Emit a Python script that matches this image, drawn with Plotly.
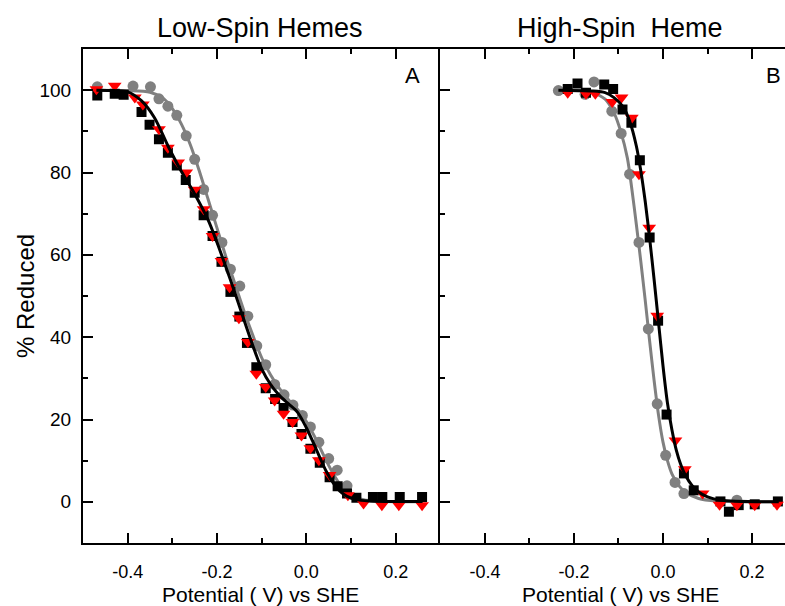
import plotly.graph_objects as go

# ---------------- Data ----------------
# Panel A (Low-Spin Hemes)
a_gray_x = [-0.468, -0.388, -0.349, -0.330, -0.310, -0.290, -0.269, -0.250, -0.230, -0.210,
            -0.189, -0.170, -0.149, -0.131, -0.111, -0.091, -0.071, -0.050, -0.030, -0.009,
            0.009, 0.028, 0.050, 0.069, 0.091]
a_gray_y = [100.8, 101.0, 100.8, 97.9, 96.1, 93.9, 88.9, 83.2, 75.9, 69.6,
            63.0, 56.5, 52.4, 45.1, 37.9, 33.3, 28.5, 26.0, 23.5, 21.0,
            18.2, 14.5, 10.5, 7.7, 3.9]

a_black_x = [-0.468, -0.429, -0.409, -0.369, -0.351, -0.330, -0.310, -0.290, -0.270, -0.250,
             -0.230, -0.210, -0.190, -0.170, -0.150, -0.133, -0.112, -0.091, -0.070, -0.051,
             -0.031, -0.011, 0.009, 0.030, 0.052, 0.070, 0.091, 0.112, 0.149, 0.170, 0.209, 0.259]
a_black_y = [98.7, 99.1, 98.9, 94.7, 91.6, 88.1, 84.8, 81.7, 78.2, 75.1,
             69.6, 64.6, 58.3, 51.0, 45.0, 38.6, 32.7, 27.6, 25.0, 22.8,
             19.4, 16.5, 12.9, 9.5, 6.0, 3.8, 2.0, 1.0, 1.2, 1.2, 1.2, 1.2]

a_red_x = [-0.470, -0.429, -0.384, -0.366, -0.330, -0.310, -0.287, -0.269, -0.250, -0.230,
           -0.210, -0.190, -0.172, -0.151, -0.131, -0.112, -0.091, -0.071, -0.051, -0.031,
           -0.011, 0.009, 0.028, 0.052, 0.093, 0.128, 0.169, 0.207, 0.259]
a_red_y = [100.2, 101.1, 98.2, 96.5, 90.5, 86.0, 82.4, 80.0, 75.8, 71.1,
           64.6, 58.5, 52.1, 44.6, 38.8, 31.1, 27.9, 24.6, 21.4, 19.4,
           16.1, 13.0, 10.1, 6.5, 1.6, -0.4, -0.8, -0.8, -0.8]

a_fit_black_x = [-0.47, -0.43, -0.40, -0.37, -0.34, -0.31, -0.28, -0.25, -0.22, -0.20, -0.18,
                 -0.16, -0.14, -0.12, -0.10, -0.08, -0.06, -0.04, -0.02, 0.0, 0.015, 0.03,
                 0.045, 0.06, 0.075, 0.09, 0.11, 0.14, 0.26]
a_fit_black_y = [100.0, 99.9, 99.6, 97.5, 93.3, 86.5, 80.3, 74.8, 68.5, 63.0, 57.0,
                 50.8, 44.3, 38.0, 32.3, 28.5, 25.8, 23.8, 21.8, 18.0, 14.5, 10.8,
                 7.3, 4.6, 2.6, 1.4, 0.6, 0.2, 0.1]

a_fit_gray_x = [-0.47, -0.40, -0.35, -0.32, -0.30, -0.28, -0.26, -0.24, -0.22, -0.20, -0.18,
                -0.16, -0.14, -0.12, -0.10, -0.08, -0.06, -0.04, -0.02, 0.0, 0.02, 0.04,
                0.06, 0.08, 0.10, 0.12, 0.15, 0.26]
a_fit_gray_y = [100.0, 99.9, 99.5, 98.0, 95.5, 91.8, 86.8, 80.5, 73.5, 66.5, 59.5,
                53.0, 46.5, 40.5, 35.0, 30.8, 27.5, 24.8, 22.5, 19.5, 15.5, 11.0,
                6.8, 3.5, 1.6, 0.7, 0.2, 0.0]

# Panel B (High-Spin Heme)
b_gray_x = [-0.235, -0.175, -0.155, -0.115, -0.094, -0.075, -0.054, -0.033, -0.013, 0.006,
            0.027, 0.047, 0.166]
b_gray_y = [99.9, 99.0, 102.0, 94.9, 89.5, 79.6, 63.0, 42.0, 23.8, 11.3,
            4.7, 2.0, 0.4]

b_black_x = [-0.214, -0.192, -0.173, -0.132, -0.112, -0.091, -0.071, -0.052, -0.030, -0.011,
             0.008, 0.047, 0.069, 0.129, 0.148, 0.170, 0.206, 0.258]
b_black_y = [100.3, 101.6, 99.4, 101.4, 100.3, 95.3, 92.1, 83.0, 64.2, 44.0,
             21.2, 6.9, 2.8, 0.1, -2.4, -0.8, -0.6, 0.1]

b_red_x = [-0.214, -0.173, -0.152, -0.114, -0.093, -0.070, -0.054, -0.031, -0.013, 0.028,
           0.049, 0.089, 0.127, 0.166, 0.206, 0.256]
b_red_y = [99.4, 99.1, 99.1, 97.1, 98.2, 93.3, 79.6, 66.6, 45.2, 14.9,
           7.9, 2.0, -0.7, -0.8, -0.8, -0.7]

b_fit_black_x = [-0.235, -0.16, -0.13, -0.11, -0.09, -0.075, -0.06, -0.05, -0.04, -0.03, -0.02,
                 -0.01, 0.0, 0.01, 0.02, 0.03, 0.04, 0.05, 0.065, 0.08, 0.10, 0.13, 0.26]
b_fit_black_y = [100.0, 99.8, 99.4, 98.2, 96.0, 92.5, 86.5, 80.5, 73.0, 64.0, 54.0,
                 43.5, 33.0, 24.0, 17.5, 12.5, 9.0, 6.5, 4.0, 2.4, 1.2, 0.4, 0.0]

b_fit_gray_x = [-0.235, -0.18, -0.155, -0.13, -0.11, -0.095, -0.08, -0.07, -0.06, -0.05, -0.04,
                -0.03, -0.02, -0.01, 0.0, 0.01, 0.02, 0.035, 0.05, 0.08, 0.12, 0.26]
b_fit_gray_y = [100.0, 99.8, 99.3, 97.8, 94.5, 90.0, 83.5, 76.0, 67.5, 58.5, 49.0,
                39.0, 29.5, 21.0, 14.5, 10.0, 6.8, 4.0, 2.4, 0.8, 0.2, 0.0]

x_tick_vals = [-0.4, -0.2, 0.0, 0.2]
x_tick_text = ["-0.4", "-0.2", "0.0", "0.2"]
y_tick_vals = [0, 20, 40, 60, 80, 100]
y_tick_text = ["0", "20", "40", "60", "80", "100"]

titles = ["Low-Spin Hemes", "High-Spin  Heme"]
panel_labels = ["A", "B"]
x_title = "Potential ( V) vs SHE"
y_title = "% Reduced"

# ---------------- Figure ----------------
FONT = "Liberation Sans, Arial, sans-serif"
GRAY = "#808080"
RED = "#FF0000"

fig = go.Figure()


def add_panel(xa, ya, gx, gy, bx, by, rx, ry, fbx, fby, fgx, fgy):
    fig.add_trace(go.Scatter(x=gx, y=gy, mode="markers", xaxis=xa, yaxis=ya,
                             marker=dict(symbol="circle", size=11, color=GRAY, line=dict(width=0))))
    fig.add_trace(go.Scatter(x=fgx, y=fgy, mode="lines", xaxis=xa, yaxis=ya,
                             line=dict(color=GRAY, width=3, shape="spline", smoothing=0.8)))
    fig.add_trace(go.Scatter(x=bx, y=by, mode="markers", xaxis=xa, yaxis=ya,
                             marker=dict(symbol="square", size=10, color="black", line=dict(width=0))))
    fig.add_trace(go.Scatter(x=rx, y=ry, mode="markers", xaxis=xa, yaxis=ya,
                             marker=dict(symbol="triangle-down", size=12, color=RED, line=dict(width=0))))
    fig.add_trace(go.Scatter(x=fbx, y=fby, mode="lines", xaxis=xa, yaxis=ya,
                             line=dict(color="black", width=3, shape="spline", smoothing=0.8)))


add_panel("x", "y", a_gray_x, a_gray_y, a_black_x, a_black_y, a_red_x, a_red_y,
          a_fit_black_x, a_fit_black_y, a_fit_gray_x, a_fit_gray_y)
add_panel("x2", "y2", b_gray_x, b_gray_y, b_black_x, b_black_y, b_red_x, b_red_y,
          b_fit_black_x, b_fit_black_y, b_fit_gray_x, b_fit_gray_y)

TOP = 49
BOTTOM = 543
H = BOTTOM - TOP
dA = 0.5091
tickfont = dict(family=FONT, size=18, color="black")
minor_x = dict(tickmode="linear", tick0=0, dtick=0.1, ticks="inside", ticklen=5,
               tickwidth=2, tickcolor="black", showgrid=False)
minor_y = dict(tickmode="linear", tick0=0, dtick=10, ticks="inside", ticklen=5,
               tickwidth=2, tickcolor="black", showgrid=False)

common_x = dict(showgrid=False, zeroline=False, showline=True, linewidth=2, linecolor="black",
                ticks="inside", ticklen=10, tickwidth=2, tickcolor="black",
                tickmode="array", tickvals=x_tick_vals, ticktext=x_tick_text,
                tickfont=tickfont, mirror="ticks", minor=minor_x, ticklabelstandoff=11)
common_y = dict(showgrid=False, zeroline=False, showline=True, linewidth=2, linecolor="black",
                ticks="inside", ticklen=10, tickwidth=2, tickcolor="black",
                tickmode="array", tickvals=y_tick_vals, ticktext=y_tick_text,
                tickfont=dict(family=FONT, size=19, color="black"),
                minor=minor_y, range=[-10, 110], ticklabelstandoff=6)

fig.update_layout(
    width=785, height=606,
    margin=dict(l=83, r=0, t=TOP, b=606 - BOTTOM),
    paper_bgcolor="white", plot_bgcolor="white",
    showlegend=False,
    font=dict(family=FONT, color="black"),
    xaxis=dict(domain=[0, dA], range=[-0.5, 0.3], anchor="y", **common_x),
    xaxis2=dict(domain=[dA, 1], range=[-0.5, 0.274], anchor="y2", **common_x),
    yaxis=dict(anchor="x", **common_y),
    yaxis2=dict(anchor="x2", showticklabels=False,
                **{k: v for k, v in common_y.items() if k not in ("ticklabelstandoff",)}),
)

ann = []
for i, cx in enumerate([(260 - 83) / 702, (620 - 83) / 702]):
    ann.append(dict(text=titles[i], x=cx, y=(BOTTOM - 28) / H, xref="paper", yref="paper",
                    showarrow=False, xanchor="center", yanchor="middle",
                    font=dict(family=FONT, size=27, color="black")))
    ann.append(dict(text=x_title, x=cx, y=(BOTTOM - 594) / H, xref="paper", yref="paper",
                    showarrow=False, xanchor="center", yanchor="middle",
                    font=dict(family=FONT, size=21, color="black")))
for i, px in enumerate([412, 773]):
    ann.append(dict(text=panel_labels[i], x=(px - 83) / 702, y=(BOTTOM - 75) / H,
                    xref="paper", yref="paper", showarrow=False,
                    xanchor="center", yanchor="middle",
                    font=dict(family=FONT, size=22, color="black")))
ann.append(dict(text=y_title, x=(25 - 83) / 702, y=(BOTTOM - 296) / H, xref="paper", yref="paper",
                showarrow=False, textangle=-90, xanchor="center", yanchor="middle",
                font=dict(family=FONT, size=24, color="black")))
fig.update_layout(annotations=ann)

fig.write_html("out.html")
